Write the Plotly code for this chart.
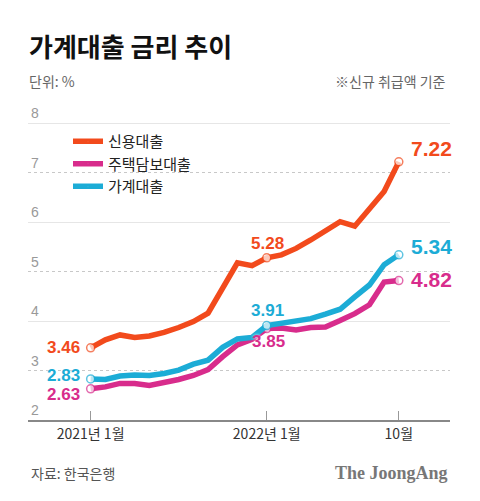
import plotly.graph_objects as go

months = ["2021-01", "2021-02", "2021-03", "2021-04", "2021-05", "2021-06",
          "2021-07", "2021-08", "2021-09", "2021-10", "2021-11", "2021-12",
          "2022-01", "2022-02", "2022-03", "2022-04", "2022-05", "2022-06",
          "2022-07", "2022-08", "2022-09", "2022-10"]

credit_loan = [3.46, 3.62, 3.72, 3.67, 3.70, 3.77, 3.87, 3.99, 4.16, 4.66, 5.18, 5.12,
               5.28, 5.34, 5.47, 5.64, 5.81, 6.01, 5.92, 6.25, 6.62, 7.22]
mortgage_loan = [2.63, 2.67, 2.74, 2.74, 2.70, 2.75, 2.82, 2.90, 3.02, 3.28, 3.52, 3.63,
                 3.85, 3.86, 3.82, 3.87, 3.88, 4.01, 4.15, 4.33, 4.79, 4.82]
household_loan = [2.83, 2.82, 2.89, 2.91, 2.90, 2.94, 3.01, 3.13, 3.21, 3.47, 3.64, 3.67,
                  3.91, 3.96, 3.99, 4.05, 4.14, 4.24, 4.49, 4.73, 5.14, 5.34]

series_names = ["신용대출", "주택담보대출", "가계대출"]
tick_months = ["2021-01", "2022-01", "2022-10"]
tick_labels = ["2021년 1월", "2022년 1월", "10월"]
y_ticks = [2, 3, 4, 5, 6, 7, 8]
marked = ["2021-01", "2022-01", "2022-10"]

RED = "#F24A1C"
PINK = "#D82C8C"
BLUE = "#1CACD6"
KFONT = "Noto Sans CJK KR"
NUM = "Liberation Sans"

# page body has an 8px default margin: lay out in reference pixel coords minus OFF
OFF = 8
W, H = 480 - OFF, 501 - OFF
PL, PR, PT, PB = 28, 450, 105, 420          # plot box in reference pixels
L, R, T, B = PL - OFF, (480 - PR), PT - OFF, (501 - PB)
pw, ph = PR - PL, PB - PT

def px(xr): return (xr - PL) / pw
def py(yr): return (PB - yr) / ph

fig = go.Figure()
for name, vals, col in [(series_names[0], credit_loan, RED),
                        (series_names[1], mortgage_loan, PINK),
                        (series_names[2], household_loan, BLUE)]:
    sizes = [8 if m in marked else 0 for m in months]
    fig.add_trace(go.Scatter(
        x=months, y=vals, name=name, mode="lines+markers",
        line=dict(color=col, width=5.5),
        marker=dict(size=sizes, color="white", line=dict(color=col, width=1.5)),
        hoverinfo="skip"))

# helper axis for the solid gridlines
fig.add_trace(go.Scatter(x=[months[0]], y=[2], yaxis="y2", showlegend=False,
                         mode="markers", marker=dict(size=0, opacity=0), hoverinfo="skip"))

shadow = "0px 0px 3px white"

def lab(text, xi, yv, col, size, xanchor="center", xshift=0, yshift=0):
    fig.add_annotation(x=xi, y=yv, xref="x", yref="y", text="<b>" + text + "</b>",
                       showarrow=False, xanchor=xanchor, yanchor="middle",
                       xshift=xshift, yshift=yshift,
                       font=dict(family=NUM, size=size, color=col, shadow=shadow))

lab("3.46", months[0], credit_loan[0], RED, 17, "right", -9, 0)
lab("2.83", months[0], household_loan[0], BLUE, 17, "right", -9, 3)
lab("2.63", months[0], mortgage_loan[0], PINK, 17, "right", -9, -6)
lab("5.28", months[12], credit_loan[12], RED, 17, "center", 1, 14)
lab("3.91", months[12], household_loan[12], BLUE, 17, "center", 1, 15)
lab("3.85", months[12], mortgage_loan[12], PINK, 17, "center", 2, -13)
lab("7.22", months[21], credit_loan[21], RED, 21, "left", 10, 13)
lab("5.34", months[21], household_loan[21], BLUE, 21, "left", 10, 8)
lab("4.82", months[21], mortgage_loan[21], PINK, 21, "left", 10, 1)

def txt(text, x, y, size, col, xanchor="left", family=KFONT):
    fig.add_annotation(x=x, y=y, xref="paper", yref="paper", text=text, showarrow=False,
                       xanchor=xanchor, yanchor="middle",
                       font=dict(family=family, size=size, color=col))

txt("<b>가계대출 금리 추이</b>", px(27), py(45), 26, "#111")
txt("단위: %", px(27), py(81), 14, "#666")
txt("※신규 취급액 기준", px(448), py(81), 14, "#666", "right")
txt("자료: 한국은행", px(29), py(473), 14, "#555")
txt("<b>The JoongAng</b>", px(450), py(473), 18, "#777", "right", "Liberation Serif")

yr = [2, 2 + ph / 49.45]
fig.update_layout(
    width=W, height=H, margin=dict(l=L, r=R, t=T, b=B),
    paper_bgcolor="white", plot_bgcolor="white",
    font=dict(family=KFONT),
    showlegend=True,
    legend=dict(x=px(68), y=py(125), xanchor="left", yanchor="top",
                font=dict(family=KFONT, size=15, color="#222"),
                bgcolor="rgba(0,0,0,0)", itemwidth=30, tracegroupgap=0),
    xaxis=dict(type="category", range=[-4.27, 24.49], tickmode="array",
               tickvals=tick_months, ticktext=tick_labels,
               showline=True, linecolor="#888", linewidth=2,
               ticks="inside", ticklen=9, tickcolor="#999", tickwidth=1,
               showgrid=False, zeroline=False,
               tickfont=dict(family=KFONT, size=14, color="#333")),
    yaxis=dict(range=yr, tickmode="array", tickvals=y_ticks,
               ticktext=[str(v) for v in y_ticks],
               ticklabelposition="inside top", ticks="",
               showgrid=True, gridcolor="#c8c8c8", griddash="dot", gridwidth=1,
               zeroline=False, showline=False,
               tickfont=dict(family=NUM, size=14, color="#999")),
    yaxis2=dict(range=yr, overlaying="y", tickmode="array", tickvals=[4, 6, 8],
                showticklabels=False, ticks="", showgrid=True, gridcolor="#e6e6e6",
                gridwidth=1, zeroline=False, showline=False),
)

fig.write_html("out.html")
